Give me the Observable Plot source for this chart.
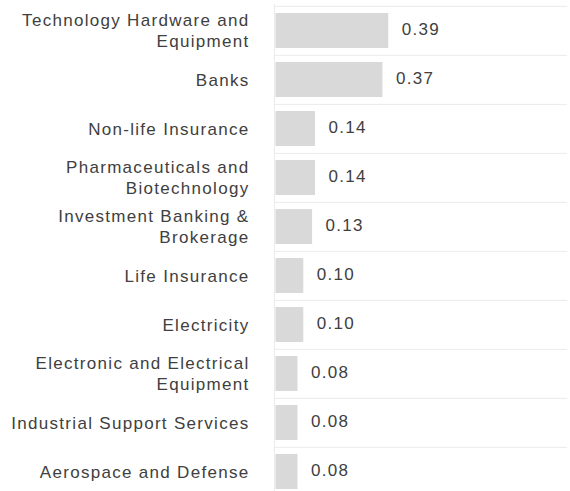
<!DOCTYPE html>
<html>
<head>
<meta charset="utf-8">
<script src="https://cdn.jsdelivr.net/npm/d3@7"></script>
<script src="https://cdn.jsdelivr.net/npm/@observablehq/plot@0.6"></script>
<style>
  html, body { margin: 0; padding: 0; background: #fff; overflow: hidden; }
</style>
</head>
<body>
<div id="chart"></div>
<script>
const categories = [
  "Technology Hardware and Equipment",
  "Banks",
  "Non-life Insurance",
  "Pharmaceuticals and Biotechnology",
  "Investment Banking & Brokerage",
  "Life Insurance",
  "Electricity",
  "Electronic and Electrical Equipment",
  "Industrial Support Services",
  "Aerospace and Defense"
];
const labels = [
  "Technology Hardware and\nEquipment",
  "Banks",
  "Non-life Insurance",
  "Pharmaceuticals and\nBiotechnology",
  "Investment Banking &\nBrokerage",
  "Life Insurance",
  "Electricity",
  "Electronic and Electrical\nEquipment",
  "Industrial Support Services",
  "Aerospace and Defense"
];
const values = [0.39, 0.37, 0.14, 0.14, 0.13, 0.10, 0.10, 0.08, 0.08, 0.08];

const data = categories.map((c, i) => ({category: c, label: labels[i], value: values[i]}));

const textColor = "#404040";
const chart = Plot.plot({
  width: 570,
  height: 491,
  marginLeft: 274,
  marginRight: 3,
  marginTop: 4,
  marginBottom: -7,
  x: {domain: [0, 1], axis: null},
  y: {domain: categories, paddingInner: 0.28, paddingOuter: 0.14, axis: null},
  style: {
    fontFamily: "'Liberation Sans', Arial, sans-serif",
    fontSize: "17px",
    letterSpacing: "1.3px",
    background: "#fff",
    color: textColor
  },
  marks: [
    Plot.ruleY(data, {y: "category", dy: -24.6, stroke: "#ebebeb"}),
    Plot.ruleX([0], {stroke: "#ebebeb"}),
    Plot.barX(data, {x: "value", y: "category", fill: "#d9d9d9", insetLeft: 1.5}),
    Plot.text(data, {x: "value", y: "category", text: d => d.value.toFixed(2), textAnchor: "start", dx: 13, dy: -1, fill: textColor, fontSize: 17}),
    Plot.text(data, {y: "category", text: "label", frameAnchor: "left", textAnchor: "end", dx: -25, dy: -1, lineHeight: 1.2, fill: textColor, fontSize: 17})
  ]
});
document.getElementById("chart").appendChild(chart);
</script>
</body>
</html>
